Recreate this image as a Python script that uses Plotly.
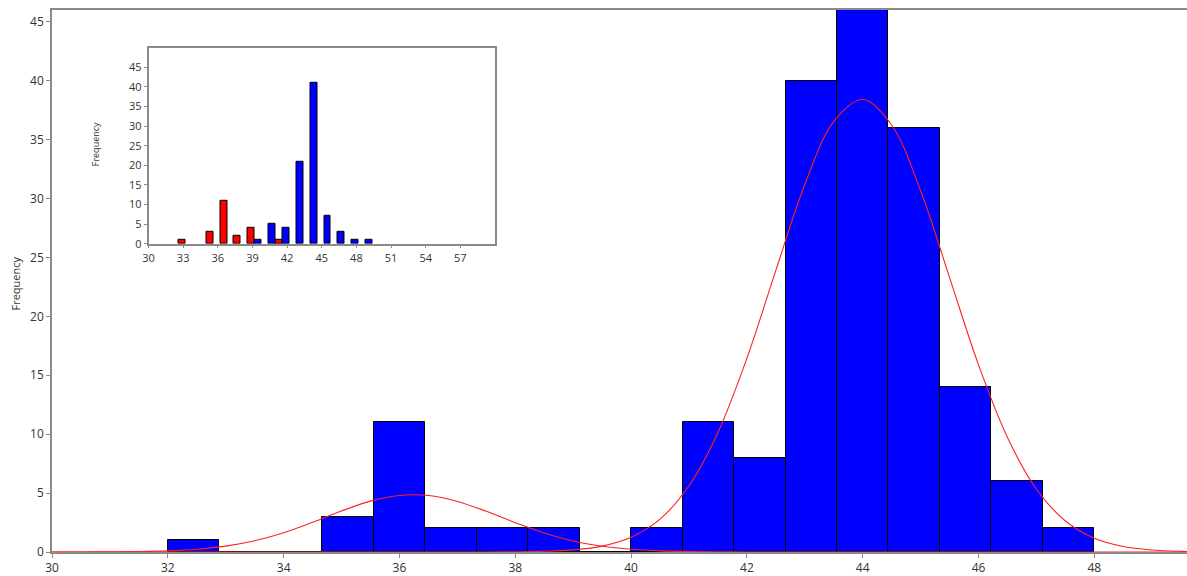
import plotly.graph_objects as go

# ---------------- data ----------------
# main histogram: 18 bins of equal width from 32 to 48
bin_start = 32.0
bin_end = 48.0
counts = [1, 0, 0, 3, 11, 2, 2, 2, 0, 2, 11, 8, 40, 46, 36, 14, 6, 2]

# fitted curves (at 0.5 steps)
curve_x = [30.0, 30.5, 31.0, 31.5, 32.0, 32.5, 33.0, 33.5, 34.0, 34.5, 35.0, 35.5,
           36.0, 36.5, 37.0, 37.5, 38.0, 38.5, 39.0, 39.5, 40.0, 40.5, 41.0, 41.5,
           42.0, 42.5, 43.0, 43.5, 44.0, 44.5, 45.0, 45.5, 46.0, 46.5, 47.0, 47.5,
           48.0, 48.5, 49.0, 49.5, 50.0]
curve1_y = [0.001, 0.004, 0.013, 0.038, 0.099, 0.236, 0.50, 0.957, 1.64, 2.52, 3.48, 4.32,
            4.80, 4.79, 4.29, 3.45, 2.49, 1.61, 0.93, 0.49, 0.23, 0.096, 0.036, 0.012,
            0.004, 0.001, 0.0, 0.0, 0.0, 0.0, 0.0, 0.0, 0.0, 0.0, 0.0, 0.0,
            0.0, 0.0, 0.0, 0.0, 0.0]
curve2_y = [0.0, 0.0, 0.0, 0.0, 0.0, 0.0, 0.0, 0.0, 0.0, 0.0, 0.0, 0.0,
            0.0, 0.0, 0.001, 0.004, 0.017, 0.058, 0.179, 0.50, 1.25, 2.79, 5.62, 10.15,
            16.44, 23.90, 31.19, 36.53, 38.40, 36.22, 30.66, 23.29, 15.88, 9.72, 5.33, 2.63,
            1.16, 0.46, 0.164, 0.053, 0.015]

# inset grouped histogram
inset_red_x = [33.2, 35.6, 36.8, 38.0, 39.2, 41.6]
inset_red_y = [1, 3, 11, 2, 4, 1]
inset_blue_x = [39.2, 40.4, 41.6, 42.8, 44.0, 45.2, 46.4, 47.6, 48.8]
inset_blue_y = [1, 5, 4, 21, 41, 7, 3, 1, 1]

main_xticks = [30, 32, 34, 36, 38, 40, 42, 44, 46, 48]
main_yticks = [0, 5, 10, 15, 20, 25, 30, 35, 40, 45]
inset_xticks = [30, 33, 36, 39, 42, 45, 48, 51, 54, 57]
inset_yticks = [0, 5, 10, 15, 20, 25, 30, 35, 40, 45]

# ---------------- figure ----------------
n_bins = len(counts)
bw = (bin_end - bin_start) / n_bins
bin_left = [bin_start + i * bw for i in range(n_bins)]

FONT = "Open Sans"
AX = "#8a8a8a"
TXT = "#333333"

fig = go.Figure()

fig.add_trace(go.Bar(
    x=bin_left, y=counts, width=bw, offset=0,
    marker=dict(color="#0000FF", line=dict(color="#000000", width=1)),
    xaxis="x", yaxis="y", showlegend=False, hoverinfo="skip",
))
fig.add_trace(go.Scatter(
    x=curve_x, y=curve1_y, mode="lines", line=dict(color="#FF2020", width=1.1, shape="spline"),
    xaxis="x", yaxis="y", showlegend=False, cliponaxis=True,
))
fig.add_trace(go.Scatter(
    x=curve_x, y=curve2_y, mode="lines", line=dict(color="#FF2020", width=1.1, shape="spline"),
    xaxis="x", yaxis="y", showlegend=False, cliponaxis=True,
))

fig.add_trace(go.Bar(
    x=inset_red_x, y=inset_red_y,
    marker=dict(color="#FF0000", line=dict(color="#000000", width=1)),
    xaxis="x2", yaxis="y2", showlegend=False,
))
fig.add_trace(go.Bar(
    x=inset_blue_x, y=inset_blue_y,
    marker=dict(color="#0000FF", line=dict(color="#000000", width=1)),
    xaxis="x2", yaxis="y2", showlegend=False,
))

W, H = 1187, 576
ml, mr, mt, mb = 52, 0, 10, 21
pw, ph = W - ml - mr, H - mt - mb

def px_x(p):
    return (p - ml) / pw

def px_y(p):
    return (H - mb - p) / ph

fig.update_layout(
    width=W, height=H,
    margin=dict(l=ml, r=mr, t=mt, b=mb, pad=0),
    paper_bgcolor="white", plot_bgcolor="white",
    barmode="group", bargap=0, bargroupgap=0,
    font=dict(family=FONT, color=TXT, size=12),
    xaxis=dict(
        domain=[0, 1], range=[30, 49.6], tickvals=main_xticks,
        showgrid=False, zeroline=False, showline=True, linecolor=AX, linewidth=1.5,
        mirror=True, ticks="outside", ticklen=4, tickcolor=AX,
        tickfont=dict(size=12, color=TXT), anchor="y",
    ),
    yaxis=dict(
        domain=[0, 1], range=[0, 46], tickvals=main_yticks,
        showgrid=False, zeroline=False, showline=True, linecolor=AX, linewidth=1.5,
        ticks="outside", ticklen=4, tickcolor=AX,
        tickfont=dict(size=12, color=TXT), anchor="x",
    ),
    xaxis2=dict(
        domain=[px_x(148.5), px_x(495)], range=[30, 60], tickvals=inset_xticks,
        showgrid=False, zeroline=False, showline=True, linecolor=AX, linewidth=1.5,
        mirror=True, ticks="outside", ticklen=3, tickcolor=AX,
        tickfont=dict(size=11, color=TXT), anchor="y2",
    ),
    yaxis2=dict(
        domain=[px_y(245), px_y(48)], range=[0, 50], tickvals=inset_yticks,
        showgrid=False, zeroline=False, showline=True, linecolor=AX, linewidth=1.5,
        mirror=True, ticks="outside", ticklen=3, tickcolor=AX,
        tickfont=dict(size=11, color=TXT), anchor="x2",
    ),
    annotations=[
        dict(text="Frequency", xref="paper", yref="paper", x=px_x(15), y=px_y(285),
             showarrow=False, textangle=-90, font=dict(size=11, color=TXT),
             xanchor="center", yanchor="middle"),
        dict(text="Frequency", xref="paper", yref="paper", x=px_x(95), y=px_y(145),
             showarrow=False, textangle=-90, font=dict(size=9, color=TXT),
             xanchor="center", yanchor="middle"),
    ],
)

fig.write_html(
    "out.html",
    config={"displayModeBar": False},
    post_script="document.body.style.margin='0';document.body.style.overflow='hidden';",
)
